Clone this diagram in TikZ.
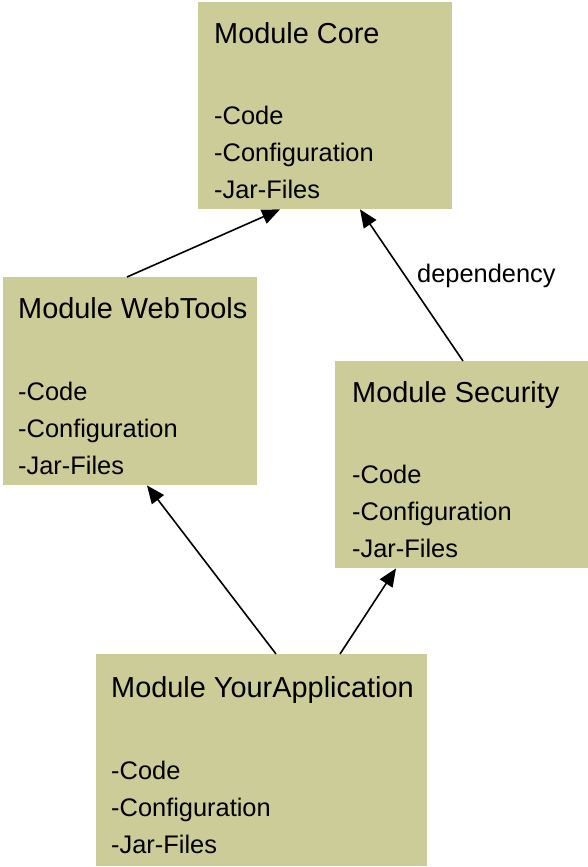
\documentclass[tikz,border=0pt]{standalone}
\usepackage{fontspec}
\setmainfont{Liberation Sans}
\usetikzlibrary{arrows.meta,calc}
\definecolor{modfill}{RGB}{204,204,153}
\tikzset{
  modbox/.style={fill=modfill, draw=none, rectangle, anchor=north west, inner sep=0pt},
  titletext/.style={anchor=base west, inner sep=0pt, font=\fontsize{29}{35}\selectfont},
  bodytext/.style={anchor=base west, inner sep=0pt, align=left, font=\fontsize{25.5}{37}\selectfont},
  dep/.style={line width=1.6bp, -{Triangle[length=18bp,width=15bp]}},
  lbl/.style={anchor=base west, inner sep=0pt, font=\fontsize{25.5}{30}\selectfont}
}
\begin{document}
\begin{tikzpicture}[x=1bp,y=-1bp]
\useasboundingbox (0,0) rectangle (588,867);
% boxes
\node[modbox, minimum width=254bp, minimum height=207bp] (core) at (198,2) {};
\node[modbox, minimum width=254bp, minimum height=208bp] (web) at (3,277) {};
\node[modbox, minimum width=253bp, minimum height=207bp] (sec) at (335,361) {};
\node[modbox, minimum width=331bp, minimum height=212bp] (app) at (96,654) {};
% texts (body nodes are placed by the baseline of their last line)
\node[titletext] (coret) at ($(core.north west)+(16,41)$) {Module Core};
\node[bodytext] (coreb) at ($(core.north west)+(16,196)$) {-Code\\-Configuration\\-Jar-Files};
\node[titletext] (webt) at ($(web.north west)+(15,41)$) {Module WebTools};
\node[bodytext] (webb) at ($(web.north west)+(15,197)$) {-Code\\-Configuration\\-Jar-Files};
\node[titletext] (sect) at ($(sec.north west)+(17,41)$) {Module Security};
\node[bodytext] (secb) at ($(sec.north west)+(17,196)$) {-Code\\-Configuration\\-Jar-Files};
\node[titletext] (appt) at ($(app.north west)+(15,43)$) {Module YourApplication};
\node[bodytext] (appb) at ($(app.north west)+(15,199)$) {-Code\\-Configuration\\-Jar-Files};
% connectors
\draw[dep] ([xshift=124bp]web.north west) -- ([xshift=82bp]core.south west);
\draw[dep] ([xshift=128bp]sec.north west) -- ([xshift=162bp]core.south west);
\draw[dep] ([xshift=180bp]app.north west) -- ([xshift=144bp]web.south west);
\draw[dep] ([xshift=244bp]app.north west) -- ([xshift=61bp]sec.south west);
\node[lbl] (deplabel) at (417,282) {dependency};
\end{tikzpicture}
\end{document}
